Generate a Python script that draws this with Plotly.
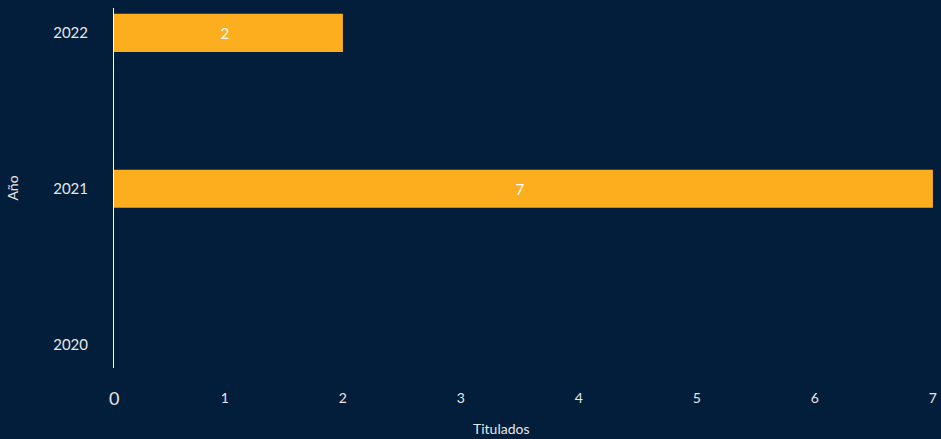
import plotly.graph_objects as go

years = ["2020", "2021", "2022"]
titulados = [0, 7, 2]
x_ticks = [1, 2, 3, 4, 5, 6, 7]

BG = "#031E3A"
BAR = "#FCAE1E"
TXT = "#E6E6E6"

fig = go.Figure(go.Bar(
    x=titulados, y=years, orientation="h",
    marker=dict(color=BAR, line=dict(width=0)),
    width=0.245,
    text=[str(v) if v else "" for v in titulados],
    textposition="inside", insidetextanchor="middle",
    textfont=dict(color="white", size=15, family="Lato"),
    hoverinfo="skip",
))

fig.update_layout(
    width=941, height=439,
    paper_bgcolor=BG, plot_bgcolor=BG,
    margin=dict(l=114, r=1, t=8, b=71),
    font=dict(family="Lato", color=TXT, size=14),
    showlegend=False,
    xaxis=dict(
        range=[0.06, 7.06], tickvals=x_ticks, ticktext=[str(v) for v in x_ticks],
        showgrid=False, zeroline=False, showline=False,
        tickfont=dict(size=14, color=TXT), ticks="", ticklabelstandoff=20,
    ),
    yaxis=dict(
        type="category", categoryorder="array", categoryarray=years,
        range=[-0.15, 2.16],
        showgrid=False, zeroline=False, showline=True, linecolor="white", linewidth=1,
        tickfont=dict(size=15, color=TXT), ticks="", ticklabelstandoff=22,
        title=dict(text="Año", font=dict(size=14, color=TXT), standoff=31),
    ),
    annotations=[
        dict(
            x=0, xref="paper", y=0, yref="paper", yshift=-17,
            text="0", showarrow=False, xanchor="center", yanchor="top",
            font=dict(size=18, color=TXT, family="Lato"),
        ),
        dict(
            x=0.4697, xref="paper", y=0, yref="paper", yshift=-50,
            text="Titulados", showarrow=False, xanchor="center", yanchor="top",
            font=dict(size=14, color=TXT, family="Lato"),
        ),
    ],
)

fig.write_html(
    "out.html",
    config={"displayModeBar": False},
    post_script="document.body.style.margin='0';document.body.style.padding='0';document.body.style.background='%s';" % BG,
)
